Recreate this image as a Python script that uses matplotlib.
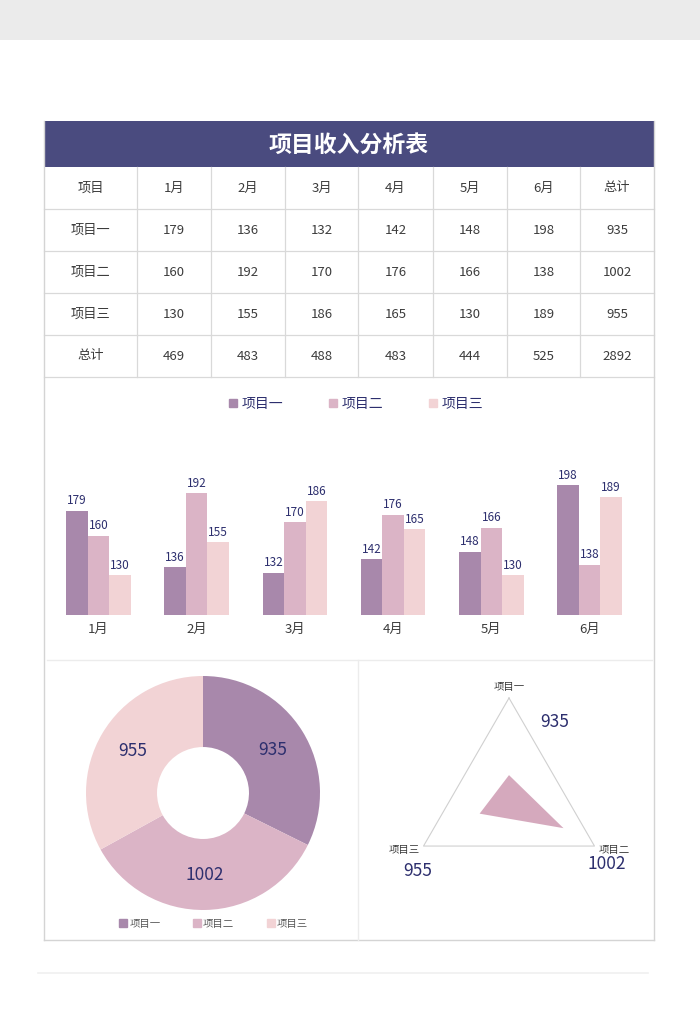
import numpy as np
import matplotlib
matplotlib.use("Agg")
import matplotlib.pyplot as plt
from matplotlib.patches import Rectangle
from matplotlib.lines import Line2D

plt.rcParams['font.family'] = ['Noto Sans CJK SC', 'DejaVu Sans']

# --- data
title = "项目收入分析表"
header_first = "项目"
total_label = "总计"
months = ["1月", "2月", "3月", "4月", "5月", "6月"]
projects = ["项目一", "项目二", "项目三"]
proj1 = [179, 136, 132, 142, 148, 198]
proj2 = [160, 192, 170, 176, 166, 138]
proj3 = [130, 155, 186, 165, 130, 189]
proj_totals = [935, 1002, 955]
month_totals = [469, 483, 488, 483, 444, 525]
grand_total = 2892

# --- styles
W, H = 700, 1030
navy = "#2d2f6e"
dark = "#3c3c3c"
bar_colors = ["#a888ab", "#dbb4c6", "#f2d3d5"]
radar_color = "#d5a9bd"
grid_c = "#d9d9d9"

fig = plt.figure(figsize=(W / 100, H / 100), dpi=100)
fig.patch.set_facecolor("white")


def px_axes(x0, y0, x1, y1, **kw):
    return fig.add_axes([x0 / W, 1 - y1 / H, (x1 - x0) / W, (y1 - y0) / H], **kw)


# background layer in pixel coordinates
bg = px_axes(0, 0, W, H)
bg.set_xlim(0, W)
bg.set_ylim(H, 0)
bg.axis("off")
bg.add_patch(Rectangle((0, 0), W, 40, color="#ebebeb", lw=0))
bg.plot([38, 648], [973, 973], color="#f0f0f0", lw=1.2)

# title bar
bg.add_patch(Rectangle((44, 121), 610, 46, color="#4a4b7f", lw=0))
bg.text(349, 145, title, color="white", fontsize=16.5, fontweight="bold",
        ha="center", va="center")

# table
col_edges = [44, 137, 211, 285, 358, 433, 507, 580, 654]
row_edges = [167, 209, 251, 293, 335, 377]
for y in row_edges[1:]:
    bg.plot([44, 654], [y, y], color=grid_c, lw=0.9)
for x in col_edges[1:-1]:
    bg.plot([x, x], [167, 377], color=grid_c, lw=0.9)

rows = [[header_first] + months + [total_label]]
for name, vals, tot in zip(projects, [proj1, proj2, proj3], proj_totals):
    rows.append([name] + [str(v) for v in vals] + [str(tot)])
rows.append([total_label] + [str(v) for v in month_totals] + [str(grand_total)])

for r, row in enumerate(rows):
    yc = (row_edges[r] + row_edges[r + 1]) / 2
    for c, cell in enumerate(row):
        xc = (col_edges[c] + col_edges[c + 1]) / 2
        bg.text(xc, yc, cell, color=dark, fontsize=9.5, ha="center", va="center")

# outer frame and section dividers
bg.plot([44, 44], [121, 940], color="#d4d4d4", lw=1)
bg.plot([654, 654], [121, 940], color="#d4d4d4", lw=1)
bg.plot([44, 654], [940, 940], color="#d4d4d4", lw=1)
bg.plot([47, 652], [660, 660], color="#ececec", lw=1)
bg.plot([358, 358], [660, 940], color="#ececec", lw=1)

# --- grouped bar chart
ax = px_axes(49.4, 463, 638.6, 615)
x = np.arange(len(months))
w = 0.219
for j, (vals, col) in enumerate(zip([proj1, proj2, proj3], bar_colors)):
    bars = ax.bar(x + (j - 1) * w, vals, width=w, color=col, lw=0)
    ax.bar_label(bars, padding=2.5, fontsize=8.5, color=navy)
ax.set_xlim(-0.5, len(months) - 0.5)
ax.set_ylim(100, 215)
ax.set_xticks(x, months)
ax.tick_params(axis="x", length=0, pad=6, labelsize=9.5, labelcolor=dark)
ax.set_yticks([])
for s in ax.spines.values():
    s.set_visible(False)
ax.patch.set_alpha(0)

handles = [Line2D([], [], ls="none", marker="s", markersize=5.5, color=c) for c in bar_colors]
fig.legend(handles, projects, loc="center", bbox_to_anchor=(356 / W, 1 - 404 / H),
           ncol=3, frameon=False, fontsize=10, labelcolor=navy, handlelength=0.6,
           handletextpad=0.3, columnspacing=3.3)

# --- donut
ax_d = px_axes(86, 676, 320, 910)
ax_d.pie(proj_totals, colors=bar_colors, startangle=90, counterclock=False, radius=1,
         labels=[str(v) for v in proj_totals], labeldistance=0.70,
         wedgeprops=dict(width=0.607, edgecolor="none"),
         textprops=dict(color=navy, fontsize=12.5, ha="center", va="center"))
ax_d.set_xlim(-1, 1)
ax_d.set_ylim(-1, 1)
ax_d.set_aspect("equal")

fig.legend(handles, projects, loc="center", bbox_to_anchor=(214 / W, 1 - 924 / H),
           ncol=3, frameon=False, fontsize=7.5, labelcolor="#595959", handlelength=0.6,
           handletextpad=0.3, columnspacing=3.2)

# --- radar
rmin, rmax = 900, 1060
ax_r = px_axes(410.3, 698, 607.7, 895.4, projection="polar")
ax_r.set_theta_offset(np.pi / 2)
ax_r.set_theta_direction(-1)
ax_r.set_rlim(rmin, rmax)
ax_r.axis("off")
angles = np.linspace(0, 2 * np.pi, len(projects), endpoint=False)
ax_r.plot(np.append(angles, angles[0]), [rmax] * (len(angles) + 1),
          color="#d0d0d0", lw=0.8, clip_on=False)
ax_r.fill(angles, proj_totals, color=radar_color, lw=0)

name_offsets = [(0, 4), (3, -3), (-3, -3)]
name_align = [("center", "bottom"), ("left", "center"), ("right", "center")]
value_offsets = [(33, -17), (9, -13), (-4, -18)]
for a, name, val, no, na, vo in zip(angles, projects, proj_totals,
                                    name_offsets, name_align, value_offsets):
    ax_r.annotate(name, xy=(a, rmax), xytext=no, textcoords="offset points",
                  ha=na[0], va=na[1], fontsize=7.5, color=dark, annotation_clip=False)
    ax_r.annotate(str(val), xy=(a, rmax), xytext=vo, textcoords="offset points",
                  ha="center", va="center", fontsize=12.5, color=navy, annotation_clip=False)

fig.savefig("out.png", dpi=100)
